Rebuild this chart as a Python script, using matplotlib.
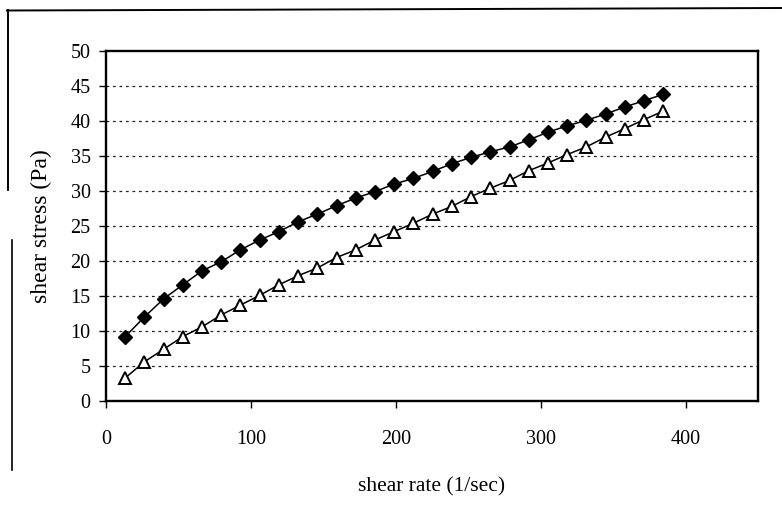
import matplotlib
matplotlib.use("Agg")
import matplotlib.pyplot as plt
from matplotlib.lines import Line2D

# shear rate (1/sec)
shear_rate = [13.3, 26.5, 39.8, 53.0, 66.3, 79.6, 92.8, 106.1, 119.3, 132.6,
              145.9, 159.1, 172.4, 185.6, 198.9, 212.2, 225.4, 238.7, 251.9,
              265.2, 278.5, 291.7, 305.0, 318.2, 331.5, 344.8, 358.0, 371.3, 384.5]

# filled diamonds
stress_a = [9.2, 12.0, 14.6, 16.6, 18.6, 19.9, 21.6, 23.0, 24.2, 25.6,
            26.7, 27.9, 29.0, 29.9, 31.0, 31.8, 32.8, 33.9, 34.8,
            35.6, 36.3, 37.3, 38.4, 39.3, 40.1, 41.0, 42.0, 42.9, 43.8]

# open triangles
stress_b = [3.3, 5.6, 7.4, 9.2, 10.6, 12.3, 13.7, 15.1, 16.6, 17.9,
            19.0, 20.5, 21.6, 23.0, 24.2, 25.4, 26.7, 27.8, 29.2,
            30.4, 31.5, 32.9, 34.0, 35.2, 36.3, 37.7, 38.9, 40.2, 41.4]

yticks = [0, 5, 10, 15, 20, 25, 30, 35, 40, 45, 50]
xticks = [0, 100, 200, 300, 400]

plt.rcParams['font.family'] = ['Liberation Serif', 'DejaVu Serif']

W, H = 782, 523
fig = plt.figure(figsize=(W / 100, H / 100), dpi=100)
ax = fig.add_axes([106 / W, (H - 401) / H, (758 - 106) / W, (401 - 51) / H])

# dashed horizontal gridlines
for yv in yticks[1:-1]:
    ax.axhline(yv, color='#222222', lw=0.9, ls=(0, (2.2, 3.0)), zorder=1)

ax.plot(shear_rate, stress_a, color='black', lw=1.1, marker='D', ms=7,
        mfc='black', mec='black', zorder=3)
ax.plot(shear_rate, stress_b, color='black', lw=1.1, marker='^', ms=9,
        mfc='white', mec='black', mew=1.4, zorder=3)

ax.set_xlim(0, 450)
ax.set_ylim(0, 50)
ax.set_xticks(xticks)
ax.set_yticks(yticks)
ax.tick_params(axis='both', direction='out', length=5, width=1.0,
               labelsize=14.5, color='black')
ax.tick_params(axis='x', pad=16)
ax.tick_params(axis='y', pad=6)

for sp in ax.spines.values():
    sp.set_linewidth(1.7)
    sp.set_color('black')

ax.set_xlabel('shear rate (1/sec)', fontsize=15.5)
ax.set_ylabel('shear stress (Pa)', fontsize=17)
ax.xaxis.set_label_coords(0.5, -0.246)
ax.yaxis.set_label_coords(-0.0997, 0.5)
ax.xaxis.label.set_va('center')
ax.yaxis.label.set_va('center')

# outer frame of the scanned figure
def px(x, y):
    return x / W, 1 - y / H

for (x0, y0), (x1, y1), lw in [((7, 10.5), (782, 8), 1.4),
                               ((7.5, 10), (7.5, 190), 1.4),
                               ((12, 240), (12, 470), 1.2)]:
    a, b = px(x0, y0)
    c, d = px(x1, y1)
    fig.add_artist(Line2D([a, c], [b, d], color='black', lw=lw,
                          transform=fig.transFigure))

fig.savefig('out.png', dpi=100)
